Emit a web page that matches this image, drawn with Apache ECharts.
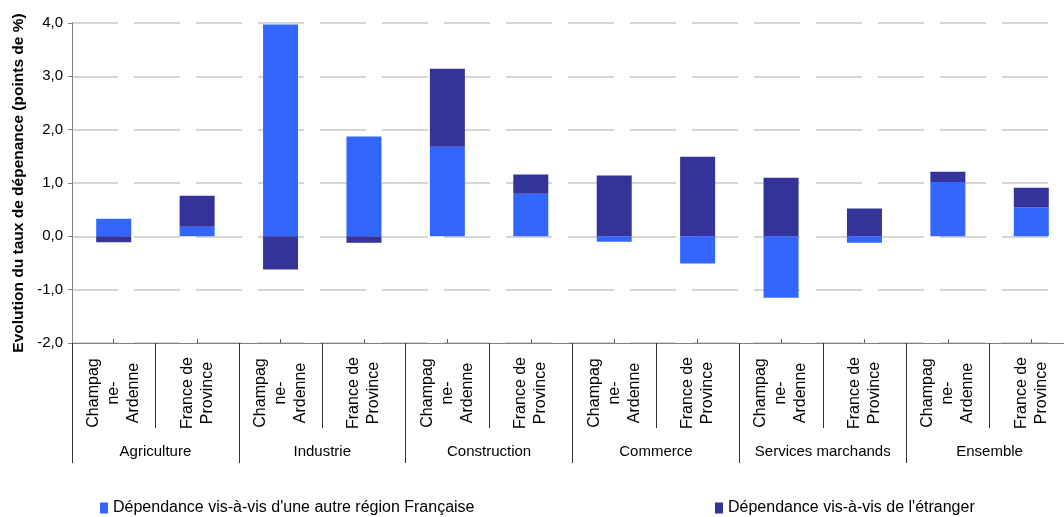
<!DOCTYPE html>
<html>
<head>
<meta charset="utf-8">
<script src="https://cdn.jsdelivr.net/npm/echarts@6/dist/echarts.min.js"></script>
<style>
  html, body { margin: 0; padding: 0; background: #fff; overflow: hidden; }
  /* the plot runs slightly past the right edge of the page */
  #chart { width: 1073px; height: 517px; }
</style>
</head>
<body>
<div id="chart"></div>
<script>
// Secteurs et zones comparées
const sectors = ['Agriculture', 'Industrie', 'Construction', 'Commerce', 'Services marchands', 'Ensemble'];
const zones = ['Champag\nne-\nArdenne', 'France de\nProvince'];
const categories = [];
sectors.forEach(function (s) { zones.forEach(function (z) { categories.push(z); }); });

// Evolution du taux de dépendance (points de %)
const autreRegion = [0.33, 0.18, 3.97, 1.87, 1.68, 0.80, -0.10, -0.51, -1.15, -0.12, 1.02, 0.54];
const etranger    = [-0.11, 0.58, -0.62, -0.12, 1.46, 0.36, 1.14, 1.49, 1.10, 0.52, 0.19, 0.37];

const seriesNames = ["Dépendance vis-à-vis d'une autre région Française", "Dépendance vis-à-vis de l'étranger"];
const yTicks = { min: -2, max: 4, interval: 1 };

const font = "'Liberation Sans', Arial, sans-serif";
const chart = echarts.init(document.getElementById('chart'), null, { renderer: 'canvas' });

chart.setOption({
  animation: false,
  grid: { left: 72, top: 23, height: 320, right: 0, containLabel: false },
  legend: [
    {
      data: [seriesNames[0]], left: 100, top: 500, padding: 0,
      icon: 'rect', itemWidth: 8, itemHeight: 11,
      textStyle: { fontFamily: font, fontSize: 16, color: '#000' }
    },
    {
      data: [seriesNames[1]], left: 715, top: 500, padding: 0,
      icon: 'rect', itemWidth: 8, itemHeight: 11,
      textStyle: { fontFamily: font, fontSize: 16, color: '#000' }
    }
  ],
  xAxis: [
    {
      // zones, with short ticks at each bar
      type: 'category', data: categories, position: 'bottom',
      axisLine: { show: true, onZero: false, lineStyle: { color: '#808080', width: 1 } },
      axisTick: { show: true, alignWithLabel: true, inside: true, length: 4, lineStyle: { color: '#606060' } },
      axisLabel: {
        interval: 0, rotate: 90, align: 'center', verticalAlign: 'middle', margin: 50,
        fontFamily: font, fontSize: 16, lineHeight: 20, color: '#000'
      }
    },
    {
      // separators between zones
      type: 'category', data: categories, position: 'bottom',
      axisLine: { show: false, onZero: false },
      axisTick: { show: true, length: 85, lineStyle: { color: '#303030' } },
      axisLabel: { show: false }
    },
    {
      // sectors
      type: 'category', data: sectors, position: 'bottom',
      axisLine: { show: false, onZero: false },
      axisTick: { show: true, length: 120, lineStyle: { color: '#303030' } },
      axisLabel: {
        interval: 0, margin: 101, fontFamily: font, fontSize: 15, color: '#000'
      }
    }
  ],
  yAxis: {
    type: 'value', min: yTicks.min, max: yTicks.max, interval: yTicks.interval,
    name: 'Evolution du taux de dépenance (points de %)',
    nameLocation: 'middle', nameGap: 45, nameRotate: 90,
    nameTextStyle: { fontFamily: font, fontSize: 15.5, fontWeight: 'bold', color: '#000' },
    axisLine: { show: true, lineStyle: { color: '#808080', width: 1 } },
    axisTick: { show: true, length: 4, lineStyle: { color: '#808080' } },
    axisLabel: {
      margin: 9, fontFamily: font, fontSize: 15, color: '#000',
      formatter: function (v) { return v.toFixed(1).replace('.', ','); }
    },
    splitLine: { show: true, lineStyle: { color: '#d6d6d6', width: 2, type: [46, 16] } }
  },
  series: [
    {
      name: seriesNames[0], type: 'bar', stack: 'dep', data: autreRegion,
      barWidth: 35, itemStyle: { color: '#3366ff' }
    },
    {
      name: seriesNames[1], type: 'bar', stack: 'dep', data: etranger,
      barWidth: 35, itemStyle: { color: '#333399' }
    }
  ]
});
</script>
</body>
</html>
